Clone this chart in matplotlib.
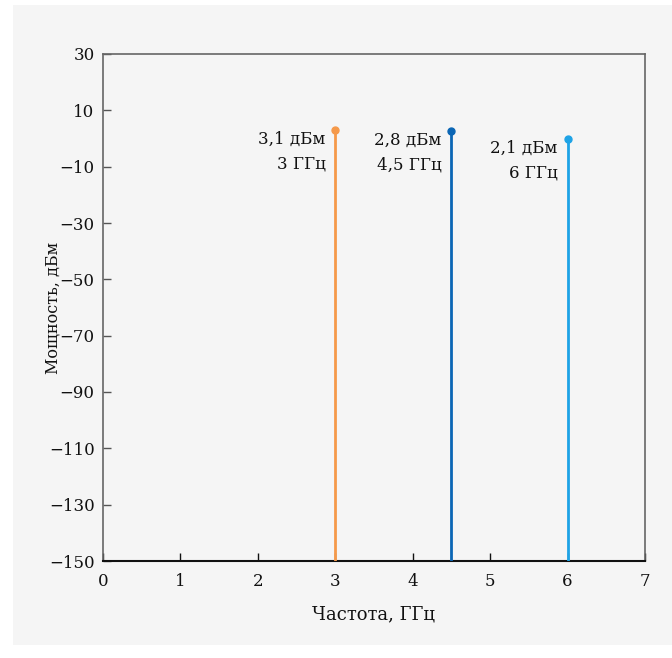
import matplotlib.pyplot as plt
from matplotlib.patches import Rectangle

# Данные спектра
freqs = [3.0, 4.5, 6.0]          # ГГц
powers = [3.1, 2.8, 0.0]         # дБм (высота маркера на графике)
labels = ["3,1 дБм\n3 ГГц", "2,8 дБм\n4,5 ГГц", "2,1 дБм\n6 ГГц"]
colors = ["#f5994a", "#0b66b5", "#1ea3e6"]

xticks = [0, 1, 2, 3, 4, 5, 6, 7]
yticks = [30, 10, -10, -30, -50, -70, -90, -110, -130, -150]
ytick_labels = ["30", "10", "\u221210", "\u221230", "\u221250", "\u221270",
                "\u221290", "\u2212110", "\u2212130", "\u2212150"]

plt.rcParams['font.family'] = ['DejaVu Serif']
bg = "#f5f5f5"
fs = 12

fig = plt.figure(figsize=(6.72, 6.58), dpi=100, facecolor="white")
fig.patches.append(Rectangle((13 / 672, 1 - 645 / 658), 1 - 13 / 672, 640 / 658,
                             transform=fig.transFigure, facecolor=bg,
                             edgecolor="none", zorder=-10))
ax = fig.add_axes([103 / 672, 1 - 561 / 658, 542 / 672, 507 / 658])
ax.set_zorder(1)
ax.set_facecolor(bg)

ymin = -150
for f, p, lab, c in zip(freqs, powers, labels, colors):
    ax.plot([f, f], [ymin, p], color=c, lw=2, solid_capstyle="butt", zorder=3)
    ax.plot(f, p, "o", color=c, ms=5, zorder=4)
    ax.annotate(lab, xy=(f, p), xytext=(-7, -1), textcoords="offset points",
                ha="right", va="top", fontsize=fs, linespacing=1.6,
                color="#111111")

ax.set_xlim(0, 7)
ax.set_ylim(-150, 30)
ax.set_xticks(xticks)
ax.set_yticks(yticks)
ax.set_yticklabels(ytick_labels)
ax.tick_params(direction="in", length=6, width=1, labelsize=fs,
               colors="#111111")
ax.tick_params(axis="x", pad=9)
ax.tick_params(axis="y", color="#555555", pad=6)

for side in ["left", "top", "right"]:
    ax.spines[side].set_color("#666666")
    ax.spines[side].set_linewidth(1.2)
ax.spines["bottom"].set_color("#111111")
ax.spines["bottom"].set_linewidth(1.5)

ax.set_xlabel("Частота, ГГц", fontsize=13, color="#111111")
ax.set_ylabel("Мощность, дБм", fontsize=11.5, color="#111111")
ax.xaxis.set_label_coords(0.5, -0.087)
ax.yaxis.set_label_coords(-0.076, 0.5)

fig.savefig("out.png", dpi=100, facecolor="white")
